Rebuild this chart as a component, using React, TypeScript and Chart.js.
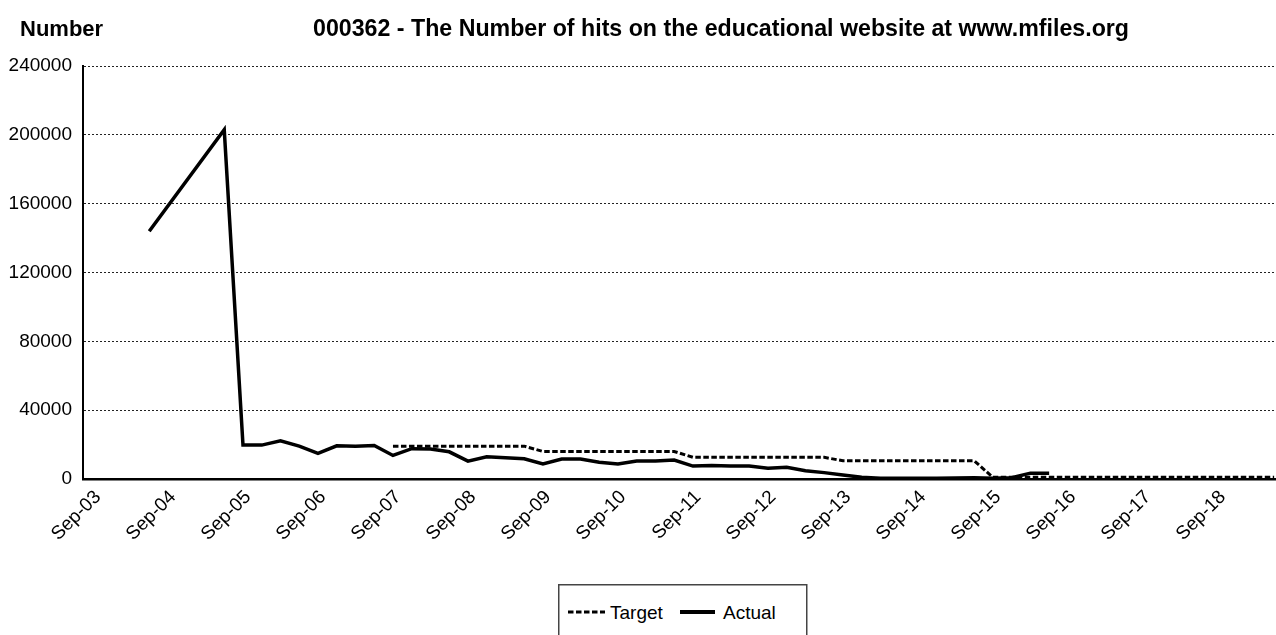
import React, { useEffect, useRef } from "react";
import { Chart, registerables } from "chart.js";

Chart.register(...registerables);

// ---------- data ----------
const tickLabels = [
  "Sep-03", "Sep-04", "Sep-05", "Sep-06", "Sep-07", "Sep-08", "Sep-09", "Sep-10",
  "Sep-11", "Sep-12", "Sep-13", "Sep-14", "Sep-15", "Sep-16", "Sep-17", "Sep-18",
];

const actualDates = [
  "2004-06", "2005-06", "2005-09", "2005-12", "2006-03", "2006-06", "2006-09", "2006-12",
  "2007-03", "2007-06", "2007-09", "2007-12", "2008-03", "2008-06", "2008-09", "2008-12",
  "2009-03", "2009-06", "2009-09", "2009-12", "2010-03", "2010-06", "2010-09", "2010-12",
  "2011-03", "2011-06", "2011-09", "2011-12", "2012-03", "2012-06", "2012-09", "2012-12",
  "2013-03", "2013-06", "2013-09", "2013-12", "2014-03", "2014-06", "2014-09", "2014-12",
  "2015-03", "2015-06", "2015-09", "2015-12", "2016-03", "2016-06",
];
const actualValues = [
  144000, 203000, 19700, 19700, 22200, 19100, 14900, 19300,
  19000, 19500, 13700, 17600, 17400, 15800, 10400, 12900,
  12300, 11800, 8700, 11600, 11600, 9700, 8700, 10400,
  10400, 11000, 7500, 7900, 7500, 7500, 6200, 6800,
  4800, 3700, 2300, 1000, 400, 400, 500, 500,
  600, 700, 500, 700, 3400, 3400,
];

const targetDates = [
  "2007-09", "2009-06", "2009-09", "2011-06", "2011-09",
  "2013-06", "2013-09", "2015-06", "2015-09", "2019-06",
];
const targetValues = [
  19100, 19100, 16000, 16000, 12600,
  12600, 10600, 10600, 1000, 1000,
];

const yTicks = [0, 40000, 80000, 120000, 160000, 200000, 240000];

// ---------- helpers ----------
const BASE_YEAR = 2003;
const BASE_MONTH = 9;
const MONTHS: Record<string, number> = {
  Jan: 1, Feb: 2, Mar: 3, Apr: 4, May: 5, Jun: 6, Jul: 7, Aug: 8, Sep: 9, Oct: 10, Nov: 11, Dec: 12,
};
const monthIndex = (s: string) => {
  const [y, m] = s.split("-").map(Number);
  return (y - BASE_YEAR) * 12 + (m - BASE_MONTH);
};
const labelIndex = (s: string) => {
  const [mon, yy] = s.split("-");
  return (2000 + Number(yy) - BASE_YEAR) * 12 + (MONTHS[mon] - BASE_MONTH);
};

const FONT = "'Liberation Sans', Arial, Helvetica, sans-serif";

export default function App() {
  const canvasRef = useRef<HTMLCanvasElement | null>(null);

  useEffect(() => {
    if (!canvasRef.current) return;
    const chart = new Chart(canvasRef.current, {
      type: "line",
      data: {
        datasets: [
          {
            label: "Target",
            data: targetDates.map((d, i) => ({ x: monthIndex(d), y: targetValues[i] })),
            borderColor: "#000",
            borderWidth: 3,
            borderDash: [5.5, 2.5],
            pointRadius: 0,
            fill: false,
            tension: 0,
          },
          {
            label: "Actual",
            data: actualDates.map((d, i) => ({ x: monthIndex(d), y: actualValues[i] })),
            borderColor: "#000",
            borderWidth: 3.5,
            pointRadius: 0,
            fill: false,
            tension: 0,
          },
        ],
      },
      options: {
        animation: false,
        responsive: true,
        maintainAspectRatio: false,
        layout: { padding: { top: 66, left: 0, right: 0, bottom: 0 } },
        plugins: {
          legend: { display: false },
          title: { display: false },
          tooltip: { enabled: false },
        },
        scales: {
          x: {
            type: "linear",
            min: -1.6,
            max: 189.3,
            afterFit: (s: any) => {
              s.height = 156;
            },
            afterBuildTicks: (s: any) => {
              s.ticks = tickLabels.map((l) => ({ value: labelIndex(l) }));
            },
            ticks: {
              autoSkip: false,
              minRotation: 45,
              maxRotation: 45,
              padding: 7,
              labelOffset: 5,
              color: "#000",
              font: { family: FONT, size: 19 },
              callback: (_v: any, i: number) => tickLabels[i],
            },
            grid: { display: false, drawTicks: false },
            border: { display: true, color: "#000", width: 2.5 },
          },
          y: {
            min: 0,
            max: 240000,
            afterFit: (s: any) => {
              s.width = 83;
            },
            afterBuildTicks: (s: any) => {
              s.ticks = yTicks.map((v) => ({ value: v }));
            },
            ticks: {
              padding: 11,
              color: "#000",
              font: { family: FONT, size: 19 },
              callback: (v: any) => String(v),
            },
            grid: { color: "#222", lineWidth: 1, drawTicks: false },
            border: { display: true, color: "#000", width: 2, dash: [2, 2] },
          },
        },
      },
    });
    return () => chart.destroy();
  }, []);

  return (
    <div
      style={{
        position: "absolute",
        left: 0,
        top: 0,
        width: 1276,
        height: 635,
        overflow: "hidden",
        background: "#fff",
        fontFamily: FONT,
      }}
    >
      <canvas ref={canvasRef} style={{ position: "absolute", left: 0, top: 0 }} />
      <div
        style={{
          position: "absolute",
          left: 20,
          top: 16,
          fontWeight: "bold",
          fontSize: 22,
          color: "#000",
          whiteSpace: "nowrap",
        }}
      >
        Number
      </div>
      <div
        style={{
          position: "absolute",
          left: 313,
          top: 15,
          fontWeight: "bold",
          fontSize: 23.2,
          color: "#000",
          whiteSpace: "nowrap",
        }}
      >
        000362 - The Number of hits on the educational website at www.mfiles.org
      </div>
      <svg
        width={250}
        height={60}
        style={{ position: "absolute", left: 558, top: 584 }}
      >
        <rect x={0.75} y={0.75} width={248} height={70} fill="#fff" stroke="#444" strokeWidth={1.5} />
        <line x1={10} y1={28} x2={47} y2={28} stroke="#000" strokeWidth={3} strokeDasharray="5.5 2.5" />
        <text x={52} y={35} fontFamily={FONT} fontSize={19} fill="#000">
          Target
        </text>
        <line x1={122} y1={28} x2={157} y2={28} stroke="#000" strokeWidth={4} />
        <text x={165} y={35} fontFamily={FONT} fontSize={19} fill="#000">
          Actual
        </text>
      </svg>
    </div>
  );
}
